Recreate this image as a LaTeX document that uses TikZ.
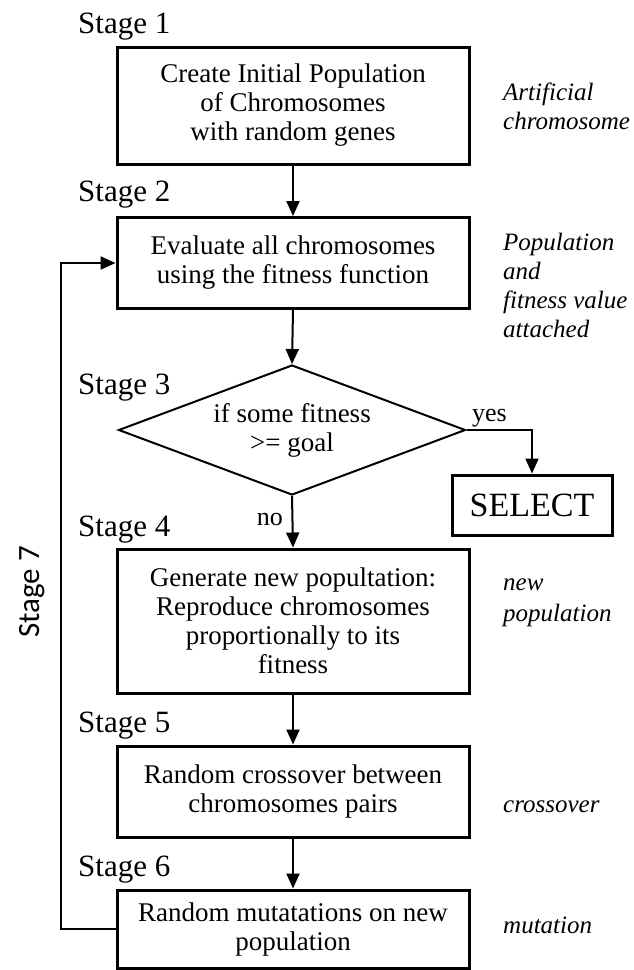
\documentclass[tikz,border=0pt]{standalone}
\usepackage{fontspec}
\setmainfont{Liberation Serif}
\newfontfamily\stagesans{Carlito}
\usetikzlibrary{shapes.geometric,arrows.meta}
\begin{document}
\begin{tikzpicture}[x=1pt,y=-1pt,
  box/.style={draw,line width=3pt,minimum width=352pt,align=center,inner sep=0pt,font=\fontsize{27}{29}\selectfont},
  conn/.style={line width=2pt,-{Triangle[length=15pt,width=13pt]}},
  stagelbl/.style={anchor=base west,inner sep=0pt,font=\fontsize{31}{33}\selectfont},
  side/.style={anchor=base west,inner sep=0pt,font=\fontsize{25}{29}\selectfont\itshape},
  small/.style={inner sep=0pt,font=\fontsize{26}{28}\selectfont},
]
\useasboundingbox (0,0) rectangle (634,970);
\fill[white] (0,0) rectangle (634,970);

% stage labels
\node[stagelbl] (s1) at (78,33) {Stage 1};
\node[stagelbl] (s2) at (78,201) {Stage 2};
\node[stagelbl] (s3) at (78,394) {Stage 3};
\node[stagelbl] (s4) at (78,536) {Stage 4};
\node[stagelbl] (s5) at (78,732) {Stage 5};
\node[stagelbl] (s6) at (78,876) {Stage 6};
\node[inner sep=0pt,rotate=90,font=\stagesans\fontsize{31}{33}\selectfont] (s7) at (32,592) {Stage 7};

% boxes
\node[box,minimum height=117pt] (b1) at (293,105.5) {Create Initial Population\\of Chromosomes\\with random genes};
\node[box,minimum height=91pt] (b2) at (293,263) {Evaluate all chromosomes\\using the fitness function};
\node[draw,diamond,line width=2pt,minimum width=347pt,minimum height=130pt,aspect=2.67,inner sep=0pt,align=center,font=\fontsize{27}{29}\selectfont] (dia) at (292,430) {if some fitness\\>= goal};
\node[box,minimum height=144pt] (b4) at (293,621) {Generate new popultation:\\Reproduce chromosomes\\proportionally to its\\fitness};
\node[box,minimum height=91pt] (b5) at (293,791.5) {Random crossover between\\chromosomes pairs};
\node[box,minimum height=78pt] (b6) at (293,929) {Random mutatations on new\\population};
\node[draw,line width=3pt,minimum width=160pt,minimum height=60pt,inner sep=0pt,font=\fontsize{34}{36}\selectfont] (sel) at (532,505) {SELECT};

% connectors
\draw[conn] (b1.south) -- (b2.north);
\draw[conn] (b2.south) -- (dia.north);
\draw[conn] (dia.south) -- (b4.north);
\draw[conn] (dia.east) -| (sel.north);
\draw[conn] (b4.south) -- (b5.north);
\draw[conn] (b5.south) -- (b6.north);
\draw[conn] (b6.west) -- ++(-55,0) |- (b2.west);

% branch labels
\node[small,anchor=base west] (yes) at (472,421) {yes};
\node[small,anchor=base east] (no) at (283,525) {no};

% side notes
\node[side] (n1a) at (503,100) {Artificial};
\node[side] (n1b) at (503,129) {chromosome};
\node[side] (n2a) at (503,250) {Population};
\node[side] (n2b) at (503,279) {and};
\node[side] (n2c) at (503,308) {fitness value};
\node[side] (n2d) at (503,337) {attached};
\node[side] (n4a) at (503,590) {new};
\node[side] (n4b) at (503,621) {population};
\node[side] (n5) at (503,812) {crossover};
\node[side] (n6) at (503,933) {mutation};
\end{tikzpicture}
\end{document}
